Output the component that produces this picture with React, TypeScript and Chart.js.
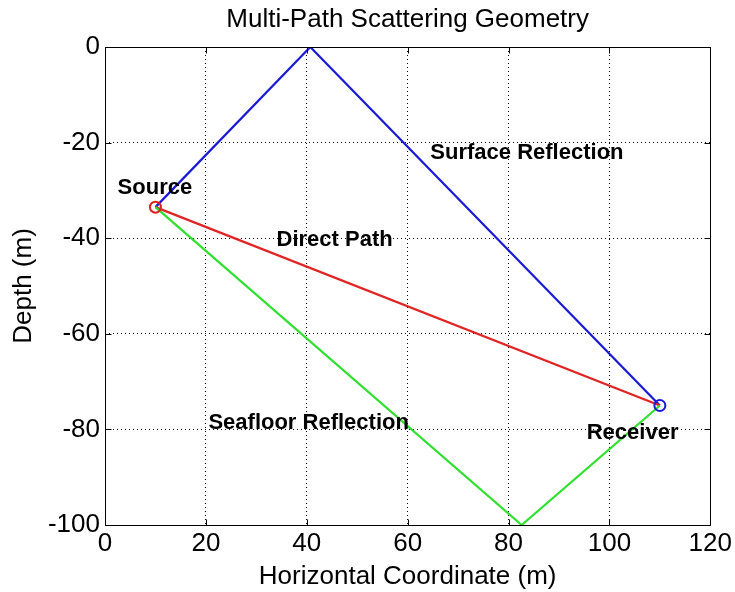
import React, { useEffect, useRef } from 'react';
import { Chart, registerables } from 'chart.js';

Chart.register(...registerables);

const chartTitle = 'Multi-Path Scattering Geometry';
const xAxisTitle = 'Horizontal Coordinate (m)';
const yAxisTitle = 'Depth (m)';

const xTicks = [0, 20, 40, 60, 80, 100, 120];
const yTicks = [0, -20, -40, -60, -80, -100];

const surfaceX = [10, 40.7, 110];
const surfaceY = [-33.5, 0, -75];
const directX = [10, 110];
const directY = [-33.5, -75];
const seafloorX = [10, 82.6, 110];
const seafloorY = [-33.5, -100, -75];

const sourceX = [10];
const sourceY = [-33.5];
const receiverX = [110];
const receiverY = [-75];

const annotationTexts = ['Source', 'Surface Reflection', 'Direct Path', 'Seafloor Reflection', 'Receiver'];
const annotationX = [2.5, 64.5, 34, 20.5, 95.5];
const annotationY = [-29.4, -22.2, -40.4, -78.7, -80.8];

const FONT = "'Liberation Sans', Arial, Helvetica, sans-serif";

function pts(xs: number[], ys: number[]) {
  return xs.map((x, i) => ({ x, y: ys[i] }));
}

export default function App() {
  const ref = useRef<HTMLCanvasElement>(null);

  useEffect(() => {
    document.body.style.margin = '0';
    const canvas = ref.current;
    if (!canvas) return;

    const framePlugin = {
      id: 'framePlugin',
      afterDatasetsDraw(chart: any) {
        const { ctx, chartArea, scales } = chart;
        const xs = scales.x;
        const ys = scales.y;
        ctx.save();
        // annotations
        ctx.fillStyle = '#000';
        ctx.font = `bold 22px ${FONT}`;
        ctx.textAlign = 'left';
        ctx.textBaseline = 'middle';
        annotationTexts.forEach((t, i) => {
          ctx.fillText(t, xs.getPixelForValue(annotationX[i]), ys.getPixelForValue(annotationY[i]));
        });
        // box
        ctx.strokeStyle = '#000';
        ctx.lineWidth = 1;
        ctx.setLineDash([]);
        const l = Math.round(chartArea.left) + 0.5;
        const r = Math.round(chartArea.right) + 0.5;
        const t = Math.round(chartArea.top) + 0.5;
        const b = Math.round(chartArea.bottom) + 0.5;
        ctx.beginPath();
        ctx.rect(l, t, r - l, b - t);
        ctx.stroke();
        // inward ticks
        const tl = 6;
        ctx.beginPath();
        xTicks.forEach((v) => {
          const px = Math.round(xs.getPixelForValue(v)) + 0.5;
          ctx.moveTo(px, b);
          ctx.lineTo(px, b - tl);
          ctx.moveTo(px, t);
          ctx.lineTo(px, t + tl);
        });
        yTicks.forEach((v) => {
          const py = Math.round(ys.getPixelForValue(v)) + 0.5;
          ctx.moveTo(l, py);
          ctx.lineTo(l + tl, py);
          ctx.moveTo(r, py);
          ctx.lineTo(r - tl, py);
        });
        ctx.stroke();
        ctx.restore();
      },
    };

    const chart = new Chart(canvas, {
      type: 'scatter',
      data: {
        datasets: [
          {
            label: 'Source',
            data: pts(sourceX, sourceY),
            showLine: false,
            pointStyle: 'circle',
            pointRadius: 5.5,
            pointBorderWidth: 2,
            pointBorderColor: '#e02020',
            pointBackgroundColor: 'rgba(0,0,0,0)',
          },
          {
            label: 'Receiver',
            data: pts(receiverX, receiverY),
            showLine: false,
            pointStyle: 'circle',
            pointRadius: 5.5,
            pointBorderWidth: 2,
            pointBorderColor: '#1a1ad6',
            pointBackgroundColor: 'rgba(0,0,0,0)',
          },
          {
            label: 'Seafloor Reflection',
            data: pts(seafloorX, seafloorY),
            showLine: true,
            borderColor: '#2fe02f',
            borderWidth: 2.2,
            pointRadius: 0,
          },
          {
            label: 'Direct Path',
            data: pts(directX, directY),
            showLine: true,
            borderColor: '#e02424',
            borderWidth: 2.2,
            pointRadius: 0,
          },
          {
            label: 'Surface Reflection',
            data: pts(surfaceX, surfaceY),
            showLine: true,
            borderColor: '#1a1ad6',
            borderWidth: 2.2,
            pointRadius: 0,
          },
        ],
      },
      options: {
        responsive: false,
        animation: false,
        devicePixelRatio: 1,
        layout: { padding: { left: 0, right: 24, top: 0, bottom: 0 } },
        plugins: {
          legend: { display: false },
          tooltip: { enabled: false },
          title: {
            display: true,
            fullSize: false,
            text: chartTitle,
            color: '#000',
            font: { family: FONT, size: 26, weight: 'normal' },
            padding: { top: 4, bottom: 11.8 },
          },
        },
        scales: {
          x: {
            type: 'linear',
            min: 0,
            max: 120,
            afterFit: (s: any) => {
              s.height = 67;
            },
            afterBuildTicks: (s: any) => {
              s.ticks = xTicks.map((v) => ({ value: v }));
            },
            ticks: {
              color: '#000',
              font: { family: FONT, size: 26 },
              padding: 3,
              maxRotation: 0,
              autoSkip: false,
            },
            grid: { color: '#000', lineWidth: 1, drawTicks: false, tickLength: 0 },
            border: { display: false, dash: [1, 3] },
            title: {
              display: true,
              text: xAxisTitle,
              color: '#000',
              font: { family: FONT, size: 26 },
              padding: { top: 0, bottom: 0 },
            },
          },
          y: {
            type: 'linear',
            min: -100,
            max: 0,
            afterFit: (s: any) => {
              s.width = 105;
            },
            afterBuildTicks: (s: any) => {
              s.ticks = yTicks.map((v) => ({ value: v }));
            },
            ticks: {
              color: '#000',
              font: { family: FONT, size: 26 },
              padding: 5,
              autoSkip: false,
            },
            grid: { color: '#000', lineWidth: 1, drawTicks: false, tickLength: 0 },
            border: { display: false, dash: [1, 3] },
            title: {
              display: true,
              text: yAxisTitle,
              color: '#000',
              font: { family: FONT, size: 26 },
              padding: { top: 8, bottom: 0 },
            },
          },
        },
      },
      plugins: [framePlugin],
    } as any);

    return () => {
      chart.destroy();
    };
  }, []);

  return (
    <div style={{ position: 'absolute', left: 0, top: 0, width: 735, height: 592, background: '#fff' }}>
      <canvas ref={ref} width={735} height={592} style={{ display: 'block' }} />
    </div>
  );
}
